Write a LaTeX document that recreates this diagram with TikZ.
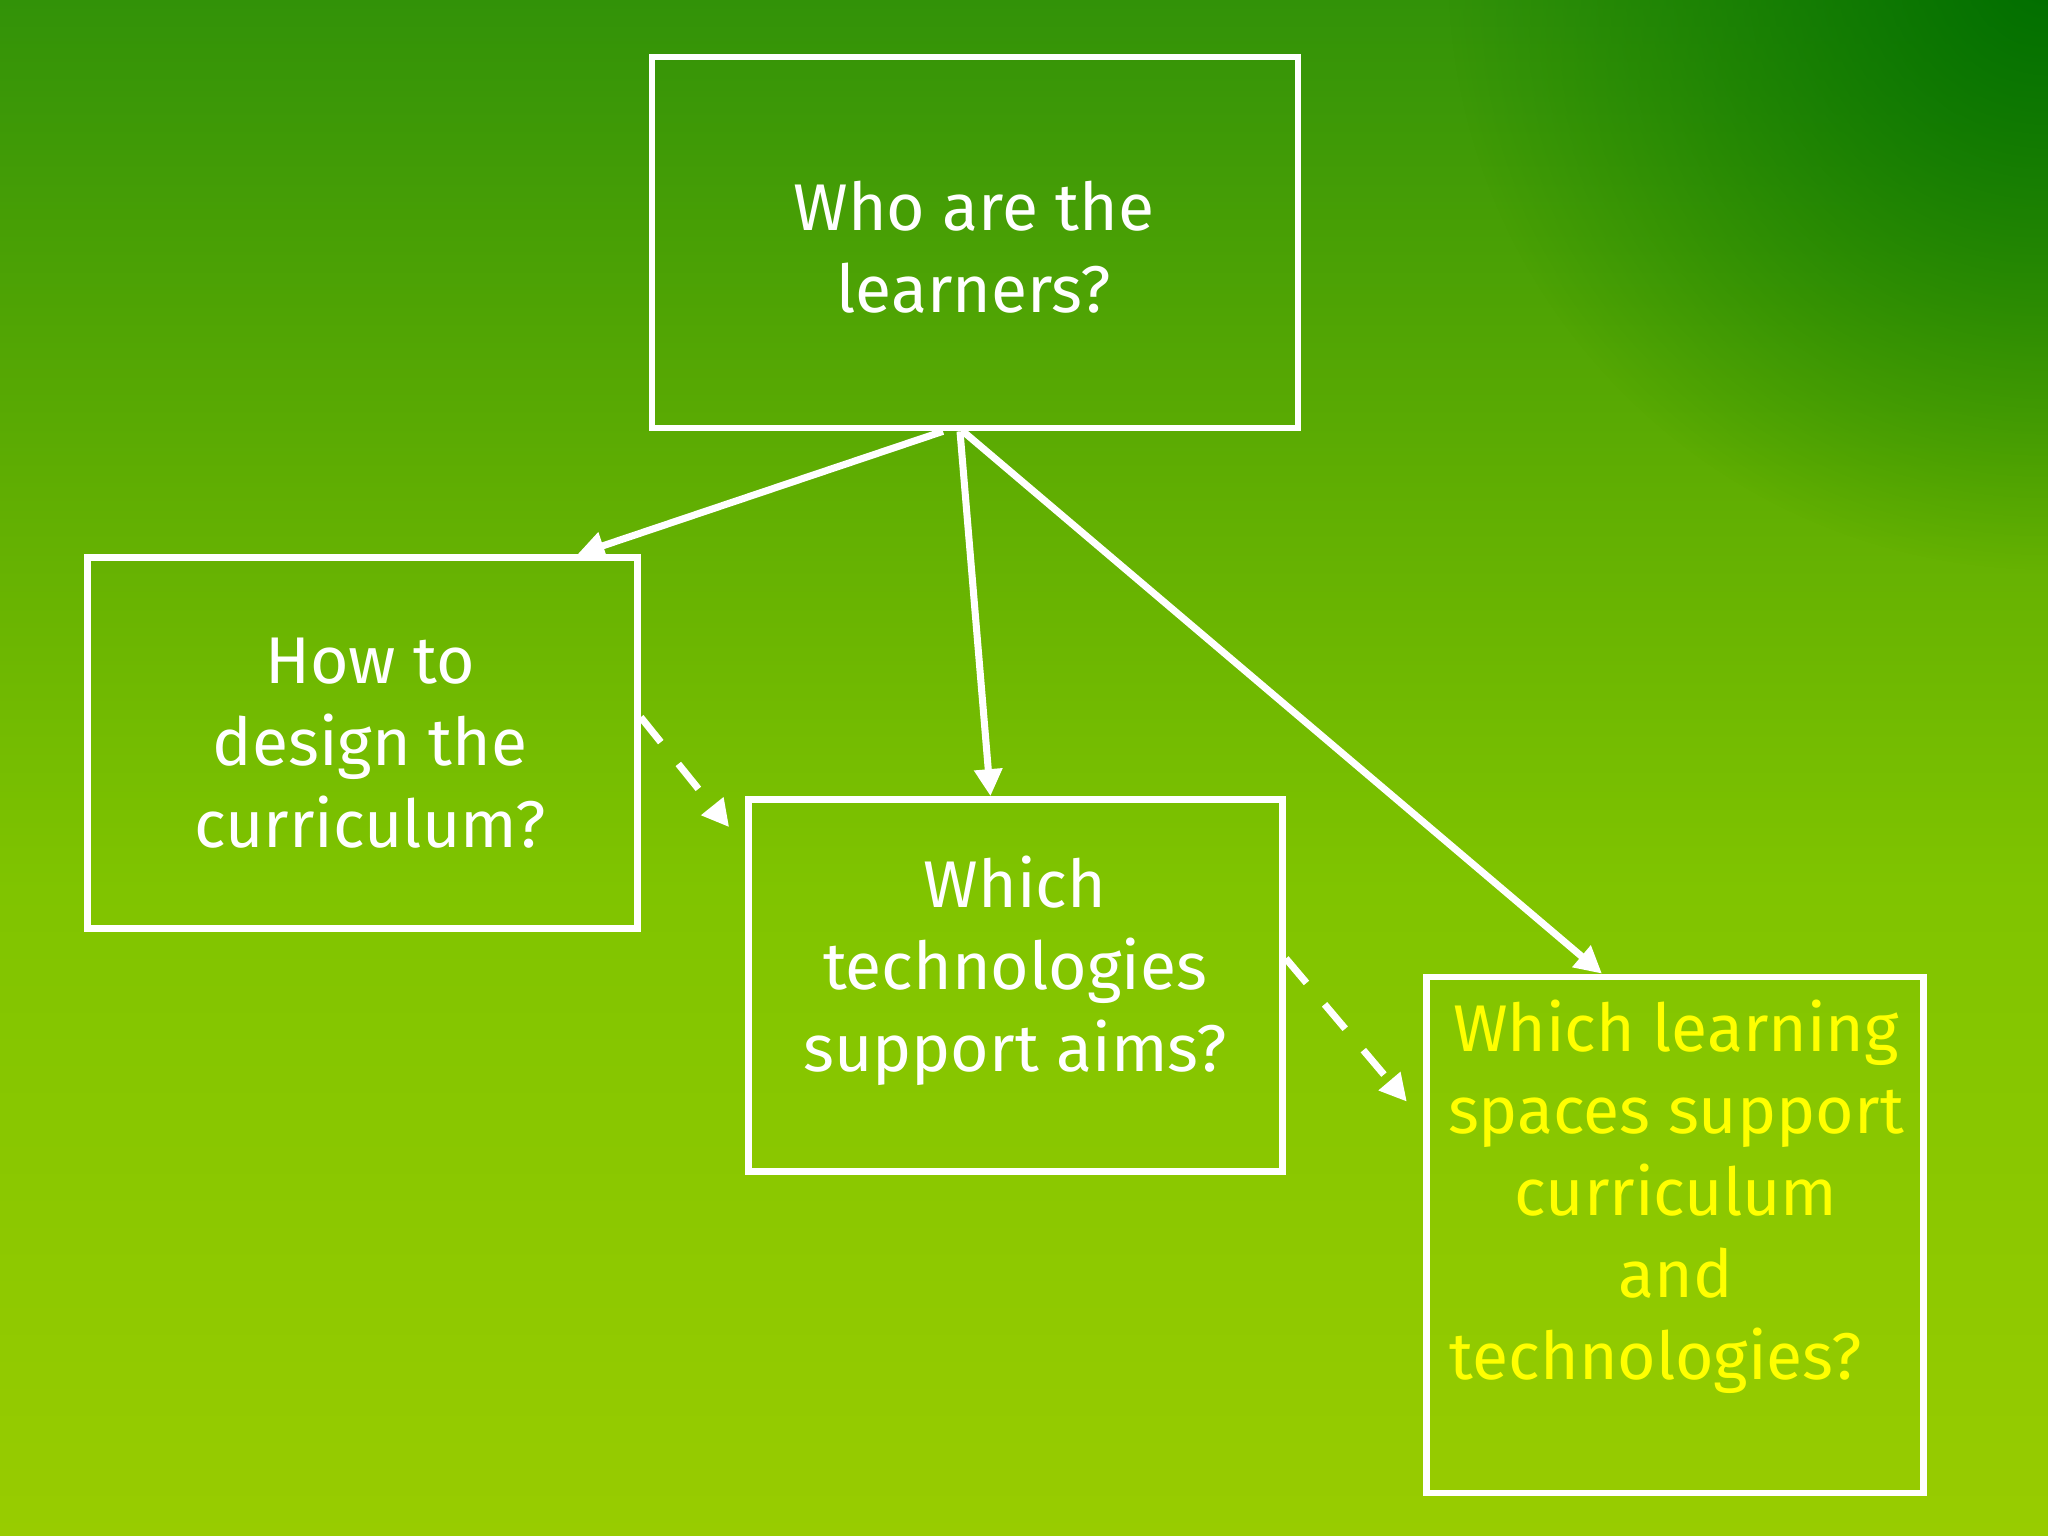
\documentclass[tikz,border=0pt]{standalone}
\usepackage{fontspec}
\setmainfont{Fira Sans}
\usetikzlibrary{arrows.meta,shadings,fadings}
\definecolor{txtyellow}{HTML}{FFFF00}
\definecolor{bgA}{HTML}{98CC00}
\definecolor{bgB}{HTML}{80C400}
\definecolor{bgC}{HTML}{60AE02}
\definecolor{bgD}{HTML}{329208}
\definecolor{bgDark}{HTML}{006E00}
\pgfdeclareverticalshading{bgshade}{100bp}{color(0bp)=(bgA); color(25bp)=(bgA); color(46bp)=(bgB); color(59bp)=(bgC); color(75bp)=(bgD); color(100bp)=(bgD)}
\tikzfading[name=cornerfade, inner color=transparent!0, outer color=transparent!100]
\tikzset{
  qbox/.style={draw=white, line width=1.9pt, rectangle, inner sep=0pt},
  qtext/.style={text=white, align=center, font=\fontsize{18.8pt}{23.3pt}\selectfont},
  conn/.style={draw=white, line width=2pt, -{Triangle[length=0.27cm,width=0.27cm]}},
  dconn/.style={conn, dash pattern=on 0.32cm off 0.28cm}
}
\begin{document}
\begin{tikzpicture}
\useasboundingbox (0,0) rectangle (20.48,-15.36);
\shade[shading=bgshade] (0,0) rectangle (20.48,-15.36);
\begin{scope}
  \clip (0,0) rectangle (20.48,-15.36);
  \fill[bgDark, path fading=cornerfade] (20.48,0.3) circle (6cm);
\end{scope}

\node[qbox, minimum width=6.46cm, minimum height=3.71cm] (top) at (9.75,-2.425) {};
\node[qbox, minimum width=5.50cm, minimum height=3.71cm] (left) at (3.624,-7.432) {};
\node[qbox, minimum width=5.34cm, minimum height=3.72cm] (mid) at (10.155,-9.855) {};
\node[qbox, minimum width=4.976cm, minimum height=5.16cm] (right) at (16.75,-12.35) {};

\node[qtext] (ttop) at (9.74,-2.47) {Who are the\\learners?};
\node[qtext] (tleft) at (3.70,-7.43) {How to\\design the\\curriculum?};
\node[qtext] (tmid) at (10.15,-9.71) {Which\\technologies\\support aims?};
\node[qtext, text=txtyellow] (tright) at (16.76,-11.97) {Which learning\\spaces support\\curriculum\\and\\technologies?\hspace*{0.4cm}};

\draw[conn] ([xshift=-0.32cm]top.south) -- ([xshift=2.15cm]left.north);
\draw[conn] ([xshift=-0.15cm]top.south) -- ([xshift=-0.25cm]mid.north);
\draw[conn] ([xshift=-0.12cm]top.south) -- ([xshift=-0.73cm]right.north);
\draw[dconn] ([yshift=0.26cm]left.east) -- ([xshift=-0.16cm,yshift=-0.31cm]mid.north west);
\draw[dconn] ([yshift=0.27cm]mid.east) -- ([xshift=-0.16cm,yshift=-1.28cm]right.north west);
\end{tikzpicture}
\end{document}
